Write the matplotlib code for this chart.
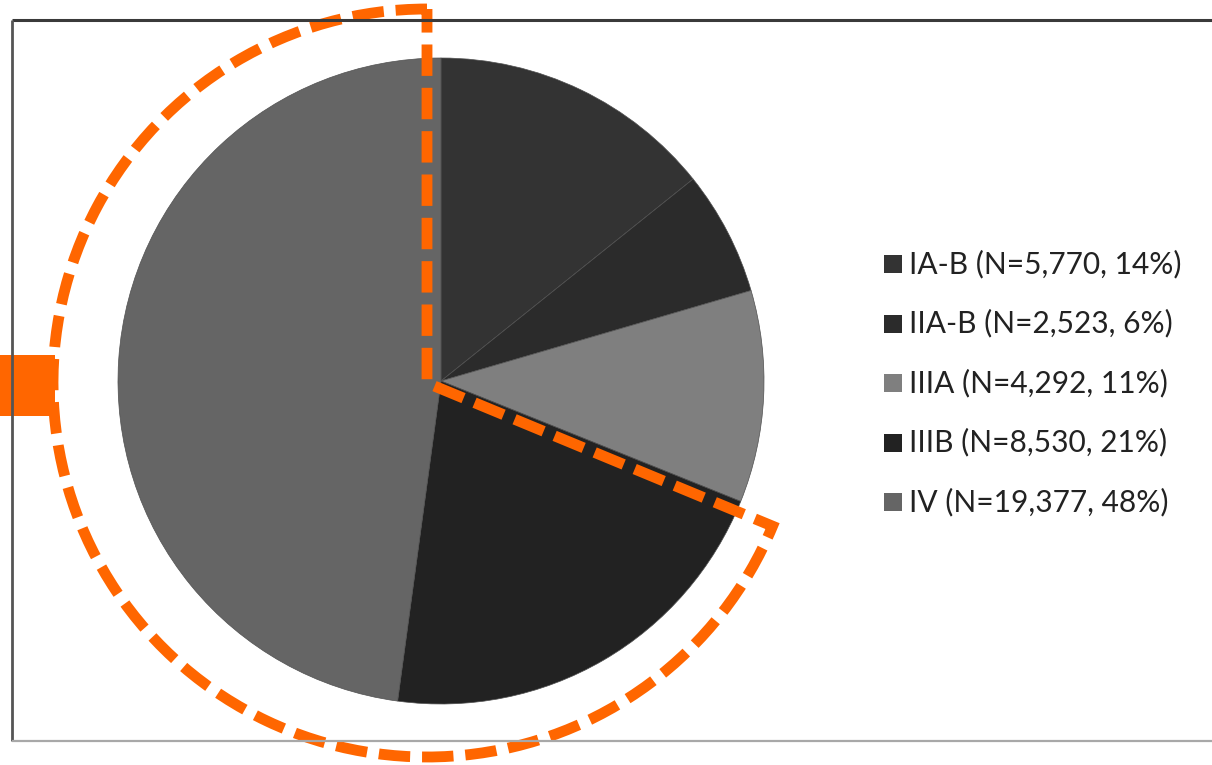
import matplotlib
matplotlib.use('Agg')
from matplotlib import pyplot as plt
from matplotlib.patches import Wedge, Rectangle

# stage counts and legend text
stages = ['IA-B', 'IIA-B', 'IIIA', 'IIIB', 'IV']
counts = [5770, 2523, 4292, 8530, 19377]
shares = ['14%', '6%', '11%', '21%', '48%']
colors = ['#333333', '#2b2b2b', '#7f7f7f', '#222222', '#656565']

W, H = 1212, 765
fig = plt.figure(figsize=(W / 100, H / 100), dpi=100)
ax = fig.add_axes([0, 0, 1, 1])

# frame of the original chart area
ax.plot([12, W], [H - 20, H - 20], color='#3a3a3a', lw=2.2, solid_capstyle='butt')
ax.plot([12, 12], [H - 20, H - 741], color='#555555', lw=2.0, solid_capstyle='butt')
ax.plot([12, W], [H - 741, H - 741], color='#a8a8a8', lw=1.6, solid_capstyle='butt')

ax.pie(counts, colors=colors, startangle=90, counterclock=False,
       center=(441, H - 381), radius=323, frame=True,
       wedgeprops=dict(edgecolor='#505050', linewidth=0.5))
ax.set_xlim(0, W)
ax.set_ylim(0, H)
ax.set_aspect('equal')
ax.axis('off')

# legend
for i, (name, n, pct, c) in enumerate(zip(stages, counts, shares, colors)):
    y = H - (264 + i * 59.5)
    ax.scatter([893], [y], marker='s', s=150, color=c, linewidths=0)
    ax.text(909, y, f'{name} (N={n:,}, {pct})', fontsize=21.5, family='Lato',
            color='#222222', va='center', ha='left')

# orange dashed highlight around the stage IV sector
orange = '#ff6600'
ax.add_patch(Wedge((427, H - 383), 374, 90, 337.5, fill=False,
                   edgecolor=orange, lw=7.8, linestyle=(0, (2.9, 1.1))))
ax.add_patch(Rectangle((0, H - 416), 55, 61, color=orange, lw=0))

fig.savefig('out.png', dpi=100)
plt.close(fig)
